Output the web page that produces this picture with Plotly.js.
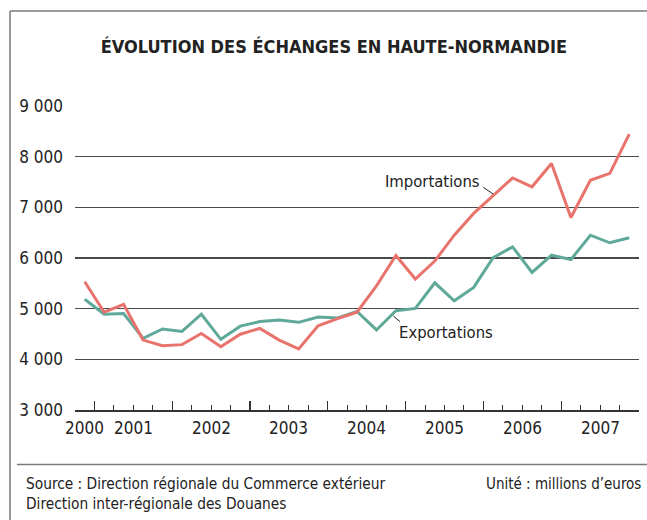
<!DOCTYPE html>
<html>
<head>
<meta charset="utf-8">
<script src="https://cdn.plot.ly/plotly-3.0.1.min.js"></script>
<style>
  html, body { margin: 0; padding: 0; background: #fff; }
  #myPlot { width: 647px; height: 520px; }
</style>
</head>
<body>
<div id="myPlot"></div>
<script>
/**
 * Data, millions d'euros, par trimestre
 */
const quarters = [
  "2000 T4",
  "2001 T1", "2001 T2", "2001 T3", "2001 T4",
  "2002 T1", "2002 T2", "2002 T3", "2002 T4",
  "2003 T1", "2003 T2", "2003 T3", "2003 T4",
  "2004 T1", "2004 T2", "2004 T3", "2004 T4",
  "2005 T1", "2005 T2", "2005 T3", "2005 T4",
  "2006 T1", "2006 T2", "2006 T3", "2006 T4",
  "2007 T1", "2007 T2", "2007 T3", "2007 T4"
];

const importations = [
  5530, 4930, 5085, 4380, 4270, 4290, 4510, 4250,
  4495, 4610, 4380, 4205, 4660, 4805, 4930, 5450,
  6050, 5585, 5940, 6450, 6880, 7240, 7580, 7405,
  7865, 6800, 7535, 7670, 8445
];

const exportations = [
  5185, 4890, 4905, 4415, 4600, 4550, 4890, 4395,
  4655, 4745, 4775, 4730, 4835, 4815, 4945, 4580,
  4960, 5005, 5510, 5155, 5420, 6005, 6220, 5715,
  6055, 5970, 6450, 6300, 6400
];

const years = ["2000", "2001", "2002", "2003", "2004", "2005", "2006", "2007"];

const yTicks = [3000, 4000, 5000, 6000, 7000, 8000, 9000];

const colors = {
  imp: "#e8736c",
  exp: "#5fa99b",
  grid: "#4a4a4a",
  frame: "#7a7a7a",
  text: "#222"
};

const FONT = "'Liberation Sans Narrow', 'DejaVu Sans Condensed', 'Liberation Sans', sans-serif";

// one slot per quarter, the point sits in the middle of its slot
const pos = quarters.map((q, i) => i + 0.5);

const yearCenter = yr => {
  const xs = pos.filter((p, i) => quarters[i].startsWith(yr));
  return xs.reduce((a, b) => a + b, 0) / xs.length;
};

/**
 * Traces
 */
const data = [
  {
    type: "scatter",
    mode: "lines",
    x: pos,
    y: exportations,
    name: "Exportations",
    line: { color: colors.exp, width: 3 }
  },
  {
    type: "scatter",
    mode: "lines",
    x: pos,
    y: importations,
    name: "Importations",
    line: { color: colors.imp, width: 3 }
  }
];

/**
 * Year labels under the axis
 */
const yearLabels = years.map(yr => ({
  text: yr,
  x: yearCenter(yr),
  xref: "x",
  y: -0.06,
  yref: "paper",
  xanchor: "center",
  yanchor: "middle",
  showarrow: false,
  font: { family: FONT, size: 17, color: colors.text }
}));

const seriesLabels = [
  {
    text: "Importations",
    x: 20.93, y: 7510,
    xanchor: "right", yanchor: "middle",
    showarrow: false,
    font: { family: FONT, size: 16.5, color: colors.text }
  },
  {
    text: "Exportations",
    x: 16.55, y: 4520,
    xanchor: "left", yanchor: "middle",
    showarrow: false,
    font: { family: FONT, size: 16.5, color: colors.text }
  }
];

const footer = [
  {
    text: "Source : Direction régionale du Commerce extérieur<br>Direction inter-régionale des Douanes",
    xref: "paper", yref: "paper",
    x: -0.091, y: -0.275,
    xanchor: "left", yanchor: "middle", align: "left",
    showarrow: false,
    font: { family: FONT, size: 15.3, color: colors.text }
  },
  {
    text: "Unité : millions d’euros",
    xref: "paper", yref: "paper",
    x: 1.007, y: -0.242,
    xanchor: "right", yanchor: "middle",
    showarrow: false,
    font: { family: FONT, size: 15, color: colors.text }
  }
];

const shapes = [
  // frame: left and top
  { type: "line", xref: "paper", yref: "paper", x0: -0.1152, x1: -0.1152, y0: 1.3125, y1: -0.37,
    line: { color: colors.frame, width: 1.5 } },
  { type: "line", xref: "paper", yref: "paper", x0: -0.1152, x1: 1.02, y0: 1.3125, y1: 1.3125,
    line: { color: colors.frame, width: 1.5 } },
  // separator above the source
  { type: "line", xref: "paper", yref: "paper", x0: -0.103, x1: 1.02, y0: -0.179, y1: -0.179,
    line: { color: colors.frame, width: 1.5 } },
  // leaders
  { type: "line", xref: "x", yref: "y", x0: 20.99, y0: 7395, x1: 21.5, y1: 7263,
    line: { color: colors.text, width: 1 } },
  { type: "line", xref: "x", yref: "y", x0: 16.37, y0: 4855, x1: 16.71, y1: 4743,
    line: { color: colors.text, width: 1 } }
];

const layout = {
  width: 647,
  height: 520,
  autosize: false,
  paper_bgcolor: "#fff",
  plot_bgcolor: "#fff",
  showlegend: false,
  separators: ", ",
  margin: { l: 75, r: 8, t: 106, b: 110, pad: 0 },
  title: {
    text: "<b>ÉVOLUTION DES ÉCHANGES EN HAUTE-NORMANDIE</b>",
    x: 0.516,
    xanchor: "center",
    y: 0.91,
    yanchor: "middle",
    font: { family: FONT, size: 18, color: colors.text }
  },
  xaxis: {
    range: [0, quarters.length],
    showgrid: false,
    zeroline: false,
    showline: true,
    linecolor: "#333",
    linewidth: 1.5,
    ticks: "inside",
    tick0: 1,
    dtick: 4,
    ticklen: 9,
    tickwidth: 1.2,
    tickcolor: "#333",
    showticklabels: false,
    minor: { tick0: 0, dtick: 1, ticks: "inside", ticklen: 5, tickwidth: 1, tickcolor: "#333" },
    fixedrange: true
  },
  yaxis: {
    range: [3000, 9000],
    tickmode: "array",
    tickvals: yTicks,
    tickformat: ",d",
    showgrid: true,
    gridcolor: colors.grid,
    gridwidth: 1.2,
    zeroline: false,
    showline: false,
    ticks: "",
    ticklabelstandoff: 11,
    tickfont: { family: FONT, size: 17, color: colors.text },
    fixedrange: true
  },
  annotations: yearLabels.concat(seriesLabels, footer),
  shapes: shapes
};

Plotly.newPlot("myPlot", data, layout, { displayModeBar: false, staticPlot: true });
</script>
</body>
</html>
